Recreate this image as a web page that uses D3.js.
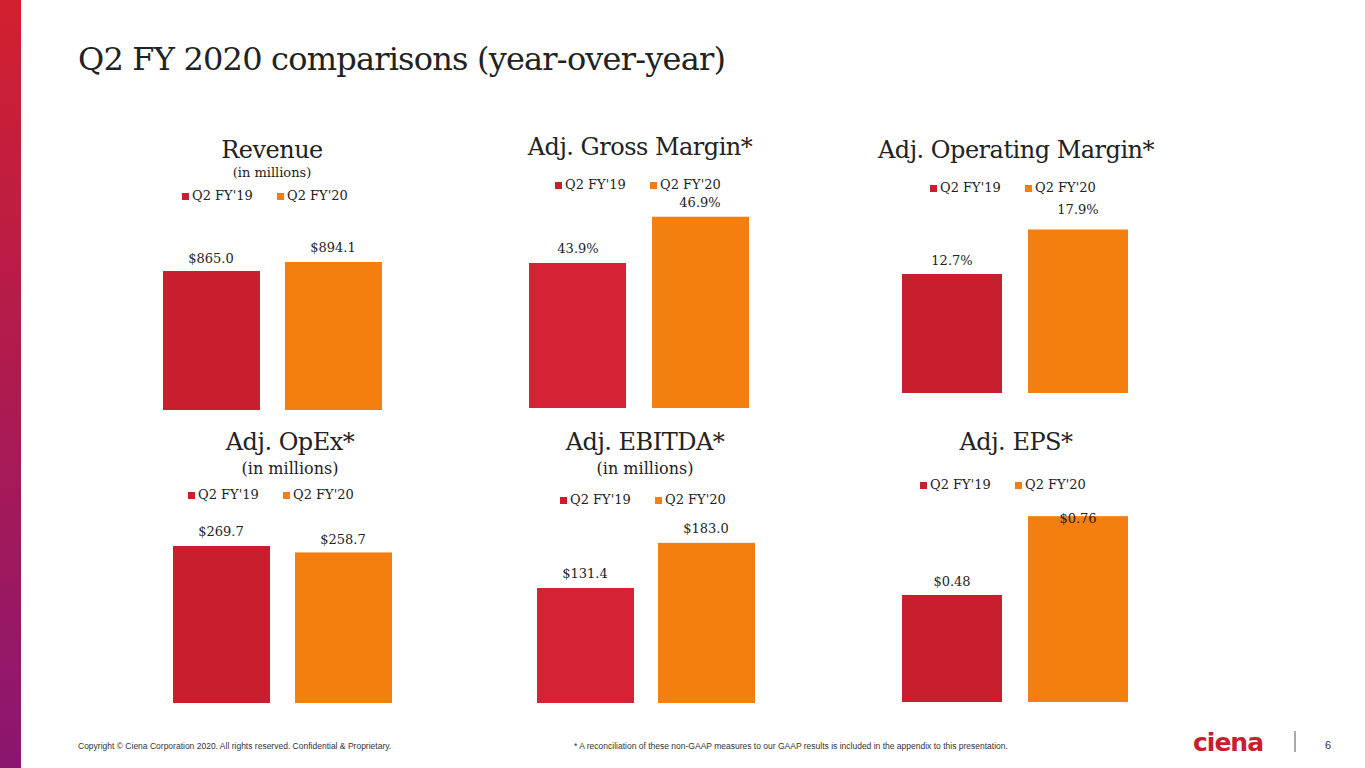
<!DOCTYPE html>
<html><head><meta charset="utf-8">
<script src="https://cdn.jsdelivr.net/npm/d3@7"></script>
<style>body{margin:0;background:#fff}svg{display:block}</style>
</head><body>
<script>
// chart data
var titles = ["Revenue", "Adj. Gross Margin*", "Adj. Operating Margin*", "Adj. OpEx*", "Adj. EBITDA*", "Adj. EPS*"];
var subtitles = ["(in millions)", "", "", "(in millions)", "(in millions)", ""];
var series = ["Q2 FY'19", "Q2 FY'20"];
var q19 = [865.0, 43.9, 12.7, 269.7, 131.4, 0.48];
var q20 = [894.1, 46.9, 17.9, 258.7, 183.0, 0.76];
var labels19 = ["$865.0", "43.9%", "12.7%", "$269.7", "$131.4", "$0.48"];
var labels20 = ["$894.1", "46.9%", "17.9%", "$258.7", "$183.0", "$0.76"];
var axisMin = [416, 34.5, -1.2, 0, 0, 0.1];   // implied value at bar base

// layout per panel
var layout = [
  {x0:163, x1:285, bw:97, base:410, top19:271, tx:272, ty:158, sy:177, ly:200, lx:190, l19:[211,263], l20:[333,252]},
  {x0:529, x1:652, bw:97, base:408, top19:263, tx:640, ty:155, sy:0,   ly:189, lx:563, l19:[578,253], l20:[700,207]},
  {x0:902, x1:1028,bw:100,base:393, top19:274, tx:1016,ty:158, sy:0,   ly:192, lx:938, l19:[952,265], l20:[1078,214]},
  {x0:173, x1:295, bw:97, base:703, top19:546, tx:290, ty:450, sy:472, ly:499, lx:196, l19:[221,536], l20:[343,544]},
  {x0:537, x1:658, bw:97, base:703, top19:588, tx:645, ty:450, sy:472, ly:504, lx:568, l19:[585,578], l20:[706,533]},
  {x0:902, x1:1028,bw:100,base:702, top19:595, tx:1016,ty:450, sy:0,   ly:489, lx:928, l19:[952,586], l20:[1078,523]}
];
var red = "#c81e2d", redB = "#d52234", orange = "#f47f10";
var serif = "'DejaVu Serif', 'Liberation Serif', serif";

var svg = d3.select("body").append("svg").attr("width", 1365).attr("height", 768);
var defs = svg.append("defs");
var g = defs.append("linearGradient").attr("id", "side").attr("x1", 0).attr("y1", 0).attr("x2", 0).attr("y2", 1);
g.append("stop").attr("offset", "0%").attr("stop-color", "#d2202f");
g.append("stop").attr("offset", "100%").attr("stop-color", "#8a1670");
svg.append("rect").attr("x", 0).attr("y", 0).attr("width", 21).attr("height", 768).attr("fill", "url(#side)");

svg.append("text").attr("x", 78).attr("y", 70).attr("font-family", serif).attr("font-size", 32)
  .attr("fill", "#222").attr("letter-spacing", -0.8).text("Q2 FY 2020 comparisons (year-over-year)");

titles.forEach(function(t, i) {
  var L = layout[i];
  var panel = svg.append("g");
  var y = d3.scaleLinear().domain([axisMin[i], q19[i]]).range([L.base, L.top19]);
  panel.append("text").attr("x", L.tx).attr("y", L.ty).attr("text-anchor", "middle")
    .attr("font-family", serif).attr("font-size", 24).attr("fill", "#222").attr("letter-spacing", -0.5).text(t);
  if (subtitles[i]) panel.append("text").attr("x", L.tx).attr("y", L.sy + (i < 3 ? 0 : 2)).attr("text-anchor", "middle")
    .attr("font-family", serif).attr("font-size", i < 3 ? 13 : 16).attr("fill", "#222").text(subtitles[i]);
  // legend
  var lg = panel.append("g").attr("transform", "translate(" + L.lx + "," + L.ly + ")");
  series.forEach(function(s, j) {
    var ox = j * 95;
    lg.append("rect").attr("x", ox - 8).attr("y", -7).attr("width", 7).attr("height", 7).attr("fill", j ? orange : red);
    lg.append("text").attr("x", ox + 2).attr("y", 0).attr("font-family", serif).attr("font-size", 13).attr("fill", "#222").text(s);
  });
  var vals = [q19[i], q20[i]], xs = [L.x0, L.x1], labs = [labels19[i], labels20[i]], lp = [L.l19, L.l20];
  panel.selectAll("rect.bar").data(vals).enter().append("rect").attr("class", "bar")
    .attr("x", function(d, j) { return xs[j]; })
    .attr("y", function(d) { return y(d); })
    .attr("width", L.bw)
    .attr("height", function(d) { return L.base - y(d); })
    .attr("fill", function(d, j) { return j ? orange : (i === 1 || i === 4 ? redB : red); });
  panel.selectAll("text.lab").data(labs).enter().append("text").attr("class", "lab")
    .attr("x", function(d, j) { return lp[j][0]; }).attr("y", function(d, j) { return lp[j][1]; })
    .attr("text-anchor", "middle").attr("font-family", serif).attr("font-size", 13).attr("fill", "#222").text(function(d) { return d; });
});

svg.append("text").attr("x", 78).attr("y", 749).attr("font-family", "'Liberation Sans', Arial, sans-serif").attr("font-size", 8.5)
  .attr("fill", "#333").text("Copyright © Ciena Corporation 2020. All rights reserved. Confidential & Proprietary.");
svg.append("text").attr("x", 574).attr("y", 749).attr("font-family", "'Liberation Sans', Arial, sans-serif").attr("font-size", 8.5)
  .attr("fill", "#333").text("* A reconciliation of these non-GAAP measures to our GAAP results is included in the appendix to this presentation.");
svg.append("text").attr("x", 1193).attr("y", 751).attr("font-family", "'DejaVu Sans', sans-serif").attr("font-weight", "bold")
  .attr("font-size", 25).attr("fill", "#c81e2d").attr("letter-spacing", -1).text("ciena");
svg.append("line").attr("x1", 1295).attr("x2", 1295).attr("y1", 731).attr("y2", 752).attr("stroke", "#555").attr("stroke-width", 1);
svg.append("text").attr("x", 1328).attr("y", 749).attr("text-anchor", "middle").attr("font-family", "'Liberation Sans', sans-serif")
  .attr("font-size", 11).attr("fill", "#333").text("6");
</script>
</body></html>
